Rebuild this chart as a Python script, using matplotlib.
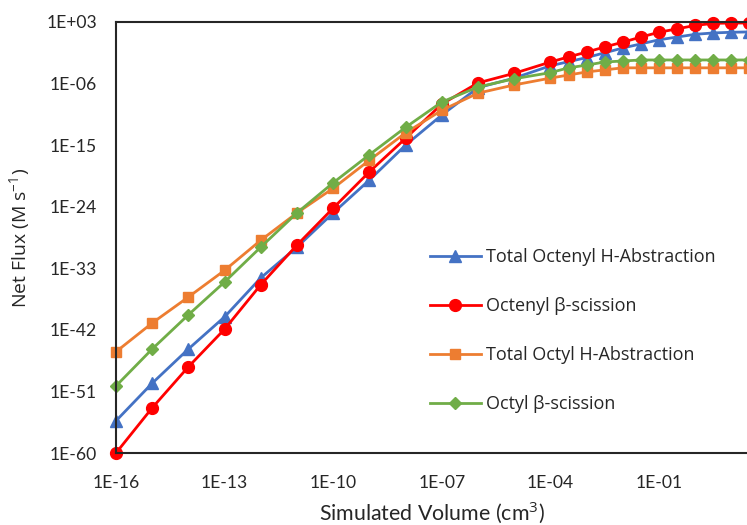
import numpy as np
import matplotlib
matplotlib.use("Agg")
import matplotlib.pyplot as plt
from matplotlib.ticker import FixedLocator, FuncFormatter, NullLocator

# log10 of simulated volume (cm^3)
volume_exp = [-16, -15, -14, -13, -12, -11, -10, -9, -8, -7, -6, -5, -4,
              -3.5, -3, -2.5, -2, -1.5, -1, -0.5, 0, 0.5, 1, 1.5, 2]

# log10 of net flux (M s^-1)
octenyl_habs = [-55.3, -49.8, -44.8, -40.1, -34.4, -29.9, -24.9, -20.1, -15.0, -10.6, -6.6, -5.2, -3.4,
                -2.8, -2.2, -1.5, -0.8, -0.2, 0.4, 0.8, 1.2, 1.4, 1.5, 1.55, 1.55]
octenyl_beta = [-60.0, -53.4, -47.4, -41.9, -35.4, -29.6, -24.2, -18.9, -14.0, -9.0, -5.9, -4.5, -2.85,
                -2.1, -1.4, -0.65, 0.05, 0.8, 1.5, 2.0, 2.5, 2.8, 2.85, 2.85, 2.85]
octyl_habs = [-45.2, -41.0, -37.2, -33.3, -28.9, -24.9, -21.3, -17.2, -13.2, -9.9, -7.4, -6.2, -5.2,
              -4.75, -4.3, -4.0, -3.7, -3.7, -3.7, -3.7, -3.7, -3.7, -3.7, -3.7, -3.7]
octyl_beta = [-50.2, -44.8, -39.8, -35.0, -29.9, -24.9, -20.5, -16.4, -12.4, -8.7, -6.5, -5.3, -4.4,
              -3.7, -3.3, -2.85, -2.7, -2.55, -2.55, -2.55, -2.55, -2.55, -2.55, -2.55, -2.55]

series_labels = ["Total Octenyl H-Abstraction", "Octenyl \u03b2-scission",
                 "Total Octyl H-Abstraction", "Octyl \u03b2-scission"]

x_tick_exp = [-16, -13, -10, -7, -4, -1]
y_tick_exp = [3, -6, -15, -24, -33, -42, -51, -60]

TICK_FONT = ['Lato', 'DejaVu Sans']
LEG_FONT = ['Open Sans', 'DejaVu Sans']
plt.rcParams['font.family'] = TICK_FONT
plt.rcParams['mathtext.fontset'] = 'custom'
plt.rcParams['mathtext.rm'] = 'Open Sans'

fig = plt.figure(figsize=(7.47, 5.25), dpi=100)
renderer = fig.canvas.get_renderer()


def fit_size(text, family, target_px, base=12.0):
    t = fig.text(0, 0, text, fontsize=base, family=family)
    w = t.get_window_extent(renderer).width
    t.remove()
    return base * target_px / w


tick_fs = fit_size("1E-16", TICK_FONT, 47)
leg_fs = fit_size(series_labels[0], LEG_FONT, 229)
xlab_fs = fit_size("Simulated Volume (cm$^3$)", TICK_FONT, 226)
ylab_fs = fit_size("Net Flux (M s$^{-1}$)", LEG_FONT, 140)

ax = fig.add_axes([116/747, 72/525, 651.6/747, 431/525])

x = 10.0 ** np.array(volume_exp)
styles = [
    (octenyl_habs, "#4472C4", "^", 8),
    (octenyl_beta, "#FF0000", "o", 8.5),
    (octyl_habs, "#ED7D31", "s", 7.5),
    (octyl_beta, "#70AD47", "D", 6.5),
]
for (vals, color, marker, ms), label in zip(styles, series_labels):
    ax.plot(x, 10.0 ** np.array(vals), color=color, marker=marker, markersize=ms,
            linewidth=2.0, label=label, clip_on=False)

ax.set_xscale("log")
ax.set_yscale("log")
ax.set_xlim(1e-16, 1e2)
ax.set_ylim(1e-60, 1e3)

ax.xaxis.set_major_locator(FixedLocator([10.0 ** e for e in x_tick_exp]))
ax.yaxis.set_major_locator(FixedLocator([10.0 ** e for e in y_tick_exp]))
ax.xaxis.set_minor_locator(NullLocator())
ax.yaxis.set_minor_locator(NullLocator())


def fmt(v, pos):
    e = int(round(np.log10(v)))
    return "1E%s%02d" % ("+" if e >= 0 else "-", abs(e))


ax.xaxis.set_major_formatter(FuncFormatter(fmt))
ax.yaxis.set_major_formatter(FuncFormatter(fmt))
ax.tick_params(axis="both", length=0, labelsize=tick_fs, colors="#262626")
ax.tick_params(axis="x", pad=15.5)
ax.tick_params(axis="y", pad=13.5)

for s in ax.spines.values():
    s.set_color("#262626")
    s.set_linewidth(1.5)

ax.set_xlabel("Simulated Volume (cm$^3$)", fontsize=xlab_fs, color="#262626")
ax.xaxis.set_label_coords(0.485, -0.108)
ax.set_ylabel("Net Flux (M s$^{-1}$)", fontsize=ylab_fs, color="#262626", family=LEG_FONT)
ax.yaxis.set_label_coords(-0.128, 0.5)

leg = ax.legend(loc="upper left", bbox_to_anchor=((414 - 116) / 651.6, (431 - (232 - 22)) / 431),
                frameon=False, prop={'family': LEG_FONT, 'size': leg_fs},
                handlelength=2.8, labelspacing=1.72, handletextpad=0.3)
for t in leg.get_texts():
    t.set_color("#262626")

fig.savefig("out.png", dpi=100)
